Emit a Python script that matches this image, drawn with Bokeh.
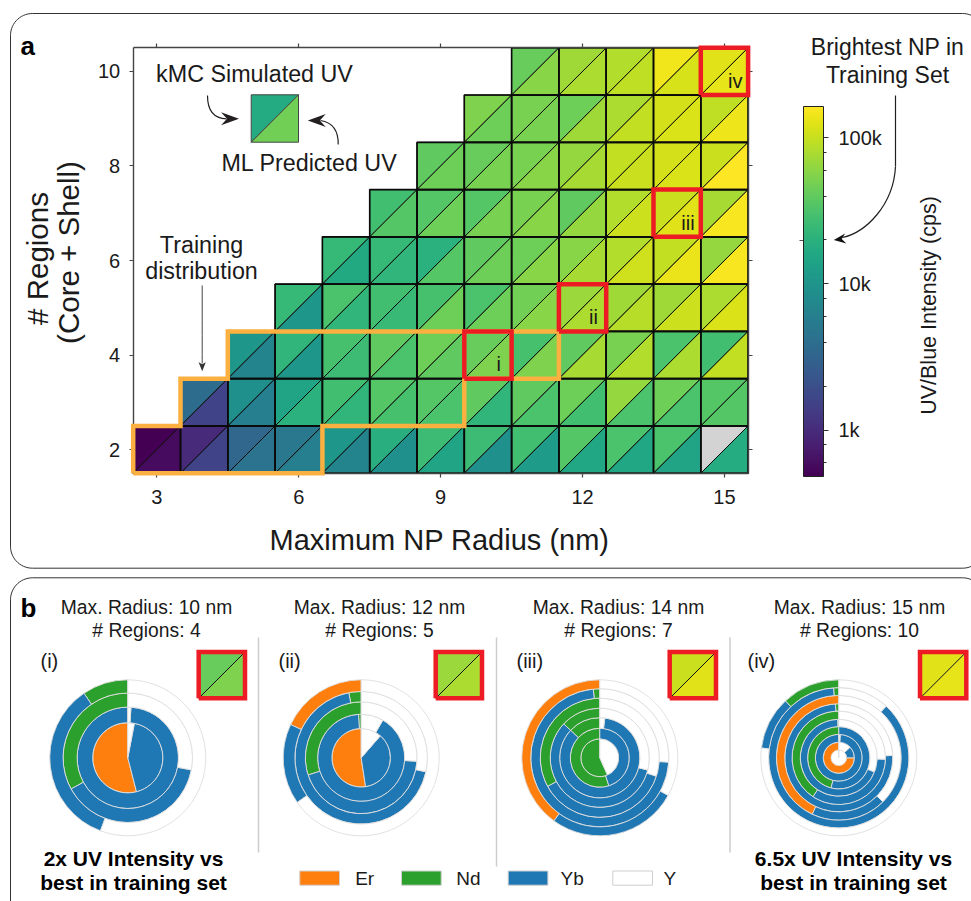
import math
import numpy as np
from bokeh.core.properties import value
from bokeh.embed import file_html
from bokeh.models import (ColorBar, ColumnDataSource, FixedTicker, LinearAxis, LogColorMapper,
                          LogTicker, Range1d)
from bokeh.palettes import Viridis256
from bokeh.plotting import figure
from bokeh.resources import INLINE

# ---------- data: log10(UV/Blue intensity, cps); kMC = upper triangle, ML = lower triangle
first_radius = {2: 3, 3: 4, 4: 5, 5: 6, 6: 7, 7: 8, 8: 9, 9: 10, 10: 11}
kmc_r2 = [2.68, 2.99, 3.52, 3.70, 4.02, 4.28, 4.42, 4.42, 4.45, 4.55, 4.50, 4.50, None]
ml_r2 = [2.76, 3.19, 3.65, 3.78, 3.82, 3.95, 4.16, 3.95, 4.08, 4.20, 4.20, 4.16, 4.25]
kmc_r3 = [3.58, 3.95, 4.16, 4.45, 4.55, 4.55, 4.60, 4.60, 4.66, 4.81, 4.66, 4.55]
ml_r3 = [3.19, 3.78, 4.30, 4.35, 4.48, 4.50, 4.35, 4.50, 4.45, 4.50, 4.50, 4.55]
kmc_r4 = [4.02, 4.35, 4.48, 4.60, 4.66, 4.63, 4.48, 4.60, 4.71, 4.50, 4.45]
ml_r4 = [3.82, 4.02, 4.42, 4.50, 4.60, 4.73, 4.73, 4.88, 4.92, 4.90, 4.98]
kmc_r5 = [4.38, 4.50, 4.45, 4.48, 4.50, 4.68, 4.83, 4.85, 4.85, 4.90]
ml_r5 = [4.02, 4.35, 4.40, 4.66, 4.66, 4.76, 4.90, 4.94, 5.02, 5.08]
kmc_r6 = [4.38, 4.38, 4.30, 4.60, 4.66, 4.76, 4.92, 4.98, 4.81]
ml_r6 = [4.22, 4.35, 4.55, 4.66, 4.76, 4.88, 5.03, 5.14, 5.19]
kmc_r7 = [4.45, 4.55, 4.55, 4.71, 4.60, 4.92, 5.01, 4.88]
ml_r7 = [4.55, 4.66, 4.71, 4.76, 4.81, 5.02, 5.10, 5.19]
kmc_r8 = [4.60, 4.63, 4.71, 4.81, 4.98, 5.05, 5.01]
ml_r8 = [4.66, 4.71, 4.76, 4.88, 5.01, 5.07, 5.215]
kmc_r9 = [4.73, 4.71, 4.66, 4.90, 5.05, 4.97]
ml_r9 = [4.66, 4.71, 4.85, 4.98, 5.07, 5.15]
kmc_r10 = [4.63, 4.85, 4.92, 5.16, 5.10]
ml_r10 = [4.76, 4.90, 4.97, 5.06, 5.12]
kmc_rows = {2: kmc_r2, 3: kmc_r3, 4: kmc_r4, 5: kmc_r5, 6: kmc_r6, 7: kmc_r7, 8: kmc_r8, 9: kmc_r9, 10: kmc_r10}
ml_rows = {2: ml_r2, 3: ml_r3, 4: ml_r4, 5: ml_r5, 6: ml_r6, 7: ml_r7, 8: ml_r8, 9: ml_r9, 10: ml_r10}
vmin, vmax = 481, 164000
example_kmc, example_ml = 4.25, 4.68

x_ticks = [3, 6, 9, 12, 15]
y_ticks = [2, 4, 6, 8, 10]
cbar_labels = {1000: "1k", 10000: "10k", 100000: "100k"}
# training distribution outline (cell edges)
train_x = [2.5, 2.5, 3.5, 3.5, 4.5, 4.5, 11.5, 11.5, 9.5, 9.5, 6.5, 6.5, 2.5]
train_y = [1.5, 2.5, 2.5, 3.5, 3.5, 4.5, 4.5, 3.5, 3.5, 2.5, 2.5, 1.5, 1.5]
picked = [("i", 10, 4), ("ii", 12, 5), ("iii", 14, 7), ("iv", 15, 10)]

# ---------- sunbursts: shell outer radii (nm) and composition (%) per shell
elements = ["Er", "Nd", "Yb", "Y"]
element_colors = ["#ff7f0e", "#2ca02c", "#1f77b4", "#ffffff"]
radii_i = [4.5, 6.5, 8.3, 10]
comp_i = [[54, 0, 43, 3], [0, 0, 99, 1], [0, 33, 39, 28], [0, 9.5, 34.8, 55.7]]
radii_ii = [4.5, 6.7, 8.6, 10.2, 12]
comp_ii = [[52.4, 0, 36.2, 11.4], [0, 1, 90.7, 8.3], [0, 30, 44, 26], [0, 3, 68.6, 28.4], [18, 0, 16.7, 65.3]]
radii_iii = [3.4, 5.3, 7.2, 8.9, 10.7, 12.4, 14]
comp_iii = [[0, 56.7, 0, 43.3], [0, 55, 45, 0], [0, 13, 85, 2], [0, 13, 58, 29], [0, 33, 37, 30],
            [0, 1.5, 72.5, 26], [40, 0, 27, 33]]
radii_iv = [1.5, 3, 4.5, 6, 7.4, 9, 10.4, 12, 13.5, 15]
comp_iv = [[0, 0, 0, 100], [75, 0, 12, 13], [0, 0, 99, 1], [0, 46, 54, 0], [0, 0.5, 68.5, 31],
           [0, 40.7, 33.8, 25.5], [0, 1, 74.7, 24.3], [43, 0, 19.5, 37.5], [0, 1.2, 87, 11.8], [0, 12, 11, 77]]
bursts = [
    ("(i)", 10, 4, radii_i, comp_i),
    ("(ii)", 12, 5, radii_ii, comp_ii),
    ("(iii)", 14, 7, radii_iii, comp_iii),
    ("(iv)", 15, 10, radii_iv, comp_iv),
]

# ---------- page geometry (page pixels)
FONT = "Liberation Sans"
L, T, W, H = 0, 0, 971, 901
R, B = L + W, T + H
HX0, HX1, HY0, HY1 = 132.7, 747.6, 472.7, 47.3


def xrange_for(px0, px1, d0, d1):
    k = (d1 - d0) / (px1 - px0)
    return Range1d(start=d0 + (L - px0) * k, end=d0 + (R - px0) * k)


def yrange_for(px0, px1, d0, d1):
    k = (d1 - d0) / (px1 - px0)
    return Range1d(start=d0 + (B - px0) * k, end=d0 + (T - px0) * k)


p = figure(width=W, height=H, x_range=Range1d(L, R), y_range=Range1d(B, T), x_axis_type=None, y_axis_type=None,
           toolbar_location=None, output_backend="svg", min_border=0, outline_line_color=None)
p.extra_x_ranges["hx"] = xrange_for(HX0, HX1, 2.5, 15.5)
p.extra_y_ranges["hy"] = yrange_for(HY0, HY1, 1.5, 10.5)
H_KW = dict(x_range_name="hx", y_range_name="hy")


def txt(x, y, s, size=18, align="center", style="normal", angle=0.0, color="#1a1a1a", **kw):
    p.text(x=[x], y=[y], text=[s], text_font=value(FONT), text_font_size=f"{size}px", text_align=align,
           text_baseline="middle", text_font_style=style, angle=angle, text_color=color, level="overlay", **kw)


def rounded(x0, y0, x1, y1, r):
    xs, ys = [], []
    for cx, cy, a0 in [(x0 + r, y0 + r, 180), (x1 - r, y0 + r, 270), (x1 - r, y1 - r, 0), (x0 + r, y1 - r, 90)]:
        for a in np.radians(np.linspace(a0, a0 + 90, 16)):
            xs.append(cx + r * math.cos(a))
            ys.append(cy + r * math.sin(a))
    return xs + xs[:1], ys + ys[:1]


for box in [(10, 13, 984, 567.7), (10, 577.3, 984, 960)]:
    bx, by = rounded(*box, 22)
    p.line(bx, by, line_color="#333333", line_width=1)

# ---------- heat map
mapper = LogColorMapper(palette=Viridis256, low=vmin, high=vmax, nan_color="#d3d3d3")


def tri_source(cells):
    xs, ys, vs = [], [], []
    for x0, y0, x1, y1, up, lo in cells:
        xs += [[x0, x0, x1], [x0, x1, x1]]
        ys += [[y0, y1, y1], [y0, y0, y1]]
        vs += [float("nan") if up is None else 10 ** up, float("nan") if lo is None else 10 ** lo]
    return ColumnDataSource(dict(xs=xs, ys=ys, v=vs))


cells = []
for ny, row in kmc_rows.items():
    for i, up in enumerate(row):
        x = first_radius[ny] + i
        cells.append((x - 0.5, ny - 0.5, x + 0.5, ny + 0.5, up, ml_rows[ny][i]))
p.patches("xs", "ys", source=tri_source(cells), fill_color={"field": "v", "transform": mapper},
          line_color="#0a0a0a", line_width=1, **H_KW)
p.quad(left=[c[0] for c in cells], bottom=[c[1] for c in cells], right=[c[2] for c in cells], top=[c[3] for c in cells],
       fill_color=None, line_color="#0a0a0a", line_width=1.6, **H_KW)

for side, loc, ticks, xaxis in [("below", 1.5, x_ticks, True), ("above", 10.5, x_ticks, True),
                                ("left", 2.5, y_ticks, False), ("right", 15.5, y_ticks, False)]:
    labelled = side in ("below", "left")
    kw = {} if labelled else {"major_label_overrides": {t: "" for t in ticks}}
    ax = LinearAxis(fixed_location=loc, ticker=FixedTicker(ticks=ticks), major_tick_out=4, major_tick_in=0,
                    bounds=(2.5, 15.5) if xaxis else (1.5, 10.5),
                    minor_tick_line_color=None, axis_line_color="#444444", axis_line_width=1.4,
                    major_tick_line_color="#444444", major_tick_line_width=1.2,
                    major_label_text_font=FONT, major_label_text_font_size="20px", major_label_text_color="#1a1a1a",
                    major_label_standoff=13 if xaxis else 9, **H_KW, **kw)
    p.add_layout(ax, side)

p.line(train_x, train_y, line_color="#fbb040", line_width=4.5, line_join="miter", level="overlay", **H_KW)
for name, x, y in picked:
    p.line([x - .5, x - .5, x + .5, x + .5, x - .5], [y - .5, y + .5, y + .5, y - .5, y - .5], line_color="#ed1c24",
           line_width=4.5, line_join="miter", level="overlay", **H_KW)
    txt(x + .23, y - .2, name, size=20, **H_KW)

txt(439, 539, "Maximum NP Radius (nm)", size=29)
txt(37, 258, "# Regions", size=29.5, angle=math.pi / 2)
txt(68, 252, "(Core + Shell)", size=29.5, angle=math.pi / 2)
txt(20, 45, "a", size=26, align="left", style="bold", color="black")
txt(20, 607, "b", size=26, align="left", style="bold", color="black")

# ---------- colour bar
cb = ColorBar(color_mapper=mapper, ticker=LogTicker(), location=(803, 425), width=20, height=370, padding=0,
              major_label_overrides=cbar_labels, major_label_text_font=FONT, major_label_text_font_size="20px",
              major_label_text_color="#1a1a1a", label_standoff=10, major_tick_out=5, major_tick_in=0,
              minor_tick_out=3, minor_tick_in=0, major_tick_line_color="#333333", minor_tick_line_color="#333333",
              bar_line_color="#222222", background_fill_color=None, border_line_color=None)
p.add_layout(cb, "center")
p.line([799, 803], [240, 240], line_color="#555555", line_width=1)
txt(887, 46, "Brightest NP in", size=23)
txt(887, 74, "Training Set", size=23)
txt(928, 305, "UV/Blue Intensity (cps)", size=21.5, angle=math.pi / 2)


# ---------- annotations
def head(tx, ty, angle, length, half, notch, color="#231f20"):
    ux, uy = math.cos(angle), math.sin(angle)
    nx, ny = -uy, ux
    xs = [tx, tx - length * ux + half * nx, tx - notch * ux, tx - length * ux - half * nx]
    ys = [ty, ty - length * uy + half * ny, ty - notch * uy, ty - length * uy - half * ny]
    p.patch(xs, ys, fill_color=color, line_color=None, level="overlay")


def curve(x0, y0, cx0, cy0, cx1, cy1, x1, y1, width=1.2, color="#231f20"):
    p.bezier(x0=[x0], y0=[y0], cx0=[cx0], cy0=[cy0], cx1=[cx1], cy1=[cy1], x1=[x1], y1=[y1], line_color=color,
             line_width=width, level="overlay")


txt(254, 73, "kMC Simulated UV", size=23.3)
txt(309, 162, "ML Predicted UV", size=23.3)
txt(201, 244, "Training", size=23.3)
txt(201, 270, "distribution", size=23.3)
curve(207, 95, 207, 110, 213, 118, 226, 118.3)
head(238.5, 118.3, 0, 18, 6.5, 12)
curve(337.7, 144, 338, 130, 332, 122, 320, 120)
head(307.3, 120, math.pi, 18, 6.5, 12)
curve(201.7, 285, 201.7, 310, 201.7, 340, 201.7, 363, width=1, color="#444444")
head(201.7, 370.7, math.pi / 2, 9, 3.6, 7, color="#333333")
curve(895, 95, 895, 130, 895, 150, 895, 166)
curve(895, 166, 893, 205, 865, 232, 842, 237)
head(833.3, 239.5, math.pi - 0.12, 12, 5, 8, color="#111111")

p.patch([250.7, 250.7, 298], [141.7, 94.3, 94.3], fill_color=mapper.palette[int(255 * (example_kmc - 2.682) / 2.533)],
        line_color="#444444", line_width=1)
p.patch([250.7, 298, 298], [141.7, 141.7, 94.3], fill_color=mapper.palette[int(255 * (example_ml - 2.682) / 2.533)],
        line_color="#444444", line_width=1)

# ---------- panel b
centers = [127.3, 360.7, 599.3, 838.3]
insets = [196, 433, 667, 917.3]
label_x = [40, 278, 516, 747]
title_x = [146, 379, 618, 859]
OUT_PX, CY = 78, 757.3
for k, (tag, rmax, nreg, radii, comp) in enumerate(bursts):
    cx = centers[k]
    px_per_nm = OUT_PX / rmax
    p.extra_x_ranges[f"s{k}"] = xrange_for(cx, cx + px_per_nm, 0, 1)
    p.extra_y_ranges[f"t{k}"] = yrange_for(CY, CY - px_per_nm, 0, 1)
    rows = dict(inner=[], outer=[], start=[], end=[], color=[])
    prev = 0.0
    for rad, shares in zip(radii, comp):
        c = 0.0
        for share, col in zip(shares, element_colors):
            if share > 0:
                rows["inner"].append(prev)
                rows["outer"].append(rad)
                rows["start"].append(math.pi / 2 + 2 * math.pi * c / 100)
                rows["end"].append(math.pi / 2 + 2 * math.pi * (c + share) / 100)
                rows["color"].append(col)
            c += share
        prev = rad
    rows["x"] = [0.0] * len(rows["inner"])
    rows["y"] = [0.0] * len(rows["inner"])
    p.annular_wedge("x", "y", inner_radius="inner", outer_radius="outer", start_angle="start", end_angle="end",
                    direction="anticlock", fill_color="color", line_color="#dedede", line_width=0.9,
                    source=ColumnDataSource(rows), x_range_name=f"s{k}", y_range_name=f"t{k}")

    ix = insets[k]
    _, cell_x, cell_y = picked[k]
    i_idx = cell_x - first_radius[cell_y]
    x0, x1, y1, y0 = ix + 2.2, ix + 48.5, 651.5, 697.8
    p.patches("xs", "ys", source=tri_source([(x0, y0, x1, y1, kmc_rows[cell_y][i_idx], ml_rows[cell_y][i_idx])]),
              fill_color={"field": "v", "transform": mapper}, line_color=None)
    p.line([x0, x1], [y0, y1], line_color="#111111", line_width=1)
    p.line([x0, x0, x1, x1, x0], [y0, y1, y1, y0, y0], line_color="#ed1c24", line_width=4.5, line_join="miter")
    txt(label_x[k], 660, tag, size=20, align="left")
    txt(title_x[k], 607, f"Max. Radius: {rmax} nm", size=19.3)
    txt(title_x[k], 630, f"# Regions: {nreg}", size=19.3)

for x in [258, 496, 729.5]:
    p.line([x, x], [637, 866 if x == 496 else 852], line_color="#cccccc", line_width=1.5)

txt(133, 858, "2x UV Intensity vs", size=21, style="bold", color="black")
txt(133, 882, "best in training set", size=21, style="bold", color="black")
txt(853, 858, "6.5x UV Intensity vs", size=21, style="bold", color="black")
txt(853, 882, "best in training set", size=21, style="bold", color="black")

swatch_x = [299.3, 401, 507.7, 612.3]
legend_text_x = [354.7, 455.7, 560, 663]
for sx, tx, name, col in zip(swatch_x, legend_text_x, elements, element_colors):
    p.patch([sx, sx, sx + 39.7, sx + 39.7], [884.7, 870.5, 870.5, 884.7], fill_color=col, line_color="#cfcfcf",
            line_width=1)
    txt(tx, 877.5, name, size=19, align="left")

open("out.html", "w").write(file_html(p, INLINE))
